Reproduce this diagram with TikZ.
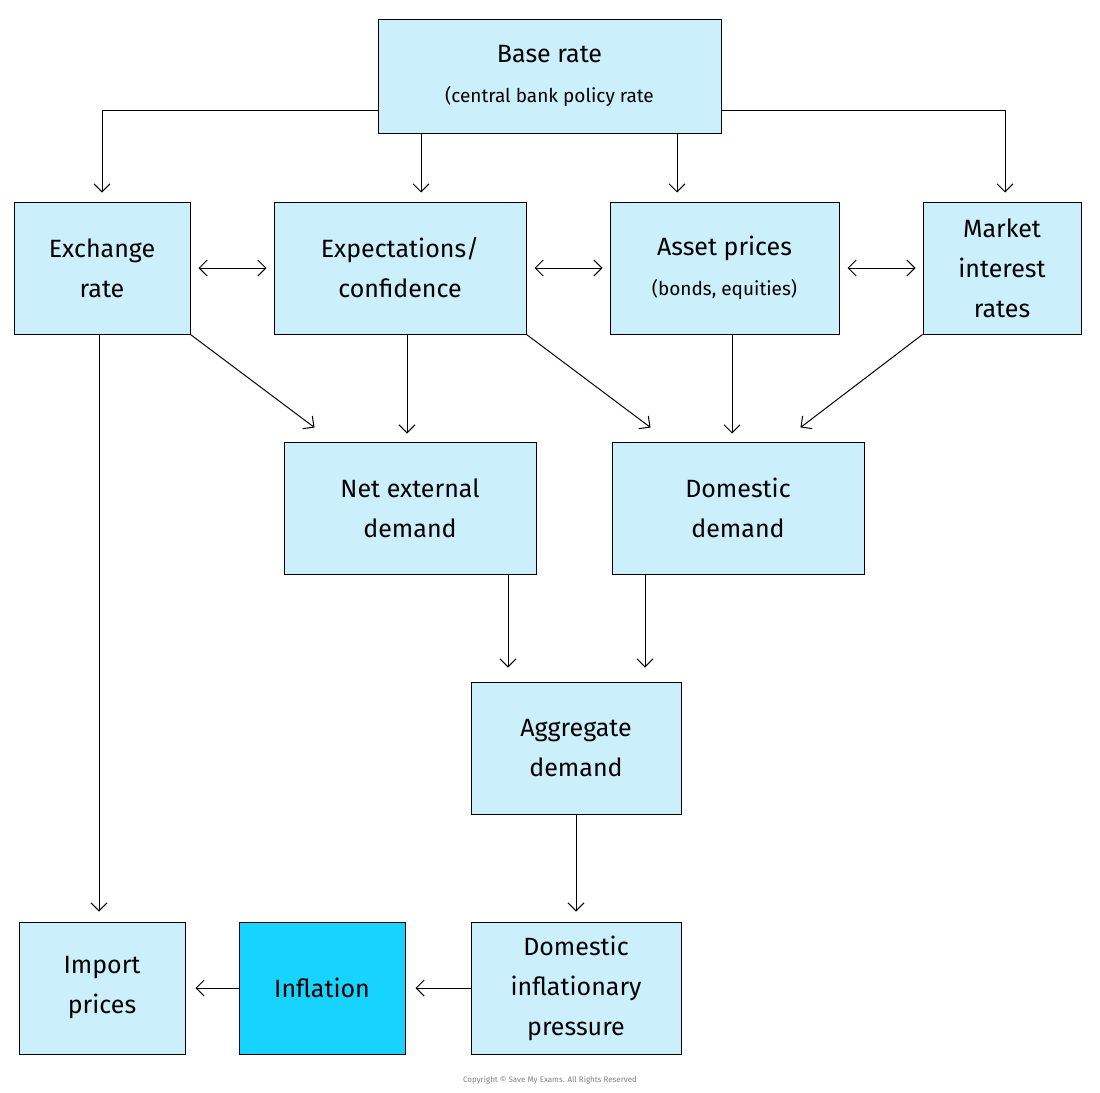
\documentclass[tikz,border=0pt]{standalone}
\usepackage{fontspec}
\setmainfont{Fira Sans}
\usetikzlibrary{arrows.meta}
\definecolor{boxblue}{HTML}{CCEFFC}
\definecolor{hotblue}{HTML}{16D4FF}
\tikzset{
    box/.style ={
        shape=rectangle,
        draw=black,
        fill=boxblue,
        align=center,
        font=\fontsize{25}{40}\selectfont,
        line width=1pt,
        inner sep=2pt
    },
    hot/.style ={
        box,
        fill=hotblue
    },
    arr/.style ={
        -{Straight Barb[length=8pt,width=16pt]},
        line width=1pt
    },
    dbl/.style ={
        {Straight Barb[length=8pt,width=16pt]}-{Straight Barb[length=8pt,width=16pt]},
        line width=1pt,
        shorten <=8pt,
        shorten >=7pt
    }
}

\begin{document}
\begin{tikzpicture}[x=1pt,y=-1pt]
    \useasboundingbox (0,0) rectangle (1100,1092);
    \node[box,minimum width=343pt,minimum height=114pt] (base) at(549.5,76) {Base rate\\{\fontsize{19}{28}\selectfont (central bank policy rate}};
    \node[box,minimum width=176pt,minimum height=132pt] (ex) at(102,268) {Exchange\\rate};
    \node[box,minimum width=252pt,minimum height=132pt] (exp) at(400,268) {Expectations/\\confidence};
    \node[box,minimum width=229pt,minimum height=132pt] (asset) at(724.5,268) {Asset prices\\{\fontsize{19}{28}\selectfont (bonds, equities)}};
    \node[box,minimum width=158pt,minimum height=132pt] (mkt) at(1002,268) {Market\\interest\\rates};
    \node[box,minimum width=252pt,minimum height=132pt] (net) at(410,508) {Net external\\demand};
    \node[box,minimum width=252pt,minimum height=132pt] (dom) at(738,508) {Domestic\\demand};
    \node[box,minimum width=210pt,minimum height=132pt] (agg) at(576,748) {Aggregate\\demand};
    \node[box,minimum width=166pt,minimum height=132pt] (imp) at(102,988) {Import\\prices};
    \node[hot,minimum width=166pt,minimum height=132pt] (inf) at(322,988) {Inflation};
    \node[box,minimum width=210pt,minimum height=132pt] (dip) at(576,988) {Domestic\\inflationary\\pressure};
    \node[text=gray,font=\fontsize{8}{10}\selectfont] (copy) at(550,1080) {Copyright © Save My Exams. All Rights Reserved};
    % from the base rate
    \draw[arr,shorten >=9pt] ([yshift=-34pt]base.west) -| (ex.north);
    \draw[arr,shorten >=9pt] ([xshift=-128.5pt]base.south) -- ([xshift=21pt]exp.north);
    \draw[arr,shorten >=9pt] ([xshift=127.5pt]base.south) -- ([xshift=-47.5pt]asset.north);
    \draw[arr,shorten >=9pt] ([yshift=-34pt]base.east) -| ([xshift=3pt]mkt.north);
    % links between channels
    \draw[dbl] (ex.east) -- (exp.west);
    \draw[dbl] (exp.east) -- (asset.west);
    \draw[dbl] (asset.east) -- (mkt.west);
    % to demand
    \draw[arr] (ex.south east) -- ([xshift=31pt,yshift=14pt]net.north west);
    \draw[arr] ([xshift=7pt]exp.south) -- ([xshift=-3pt,yshift=8pt]net.north);
    \draw[arr] (exp.south east) -- ([xshift=39pt,yshift=14pt]dom.north west);
    \draw[arr] ([xshift=7.5pt]asset.south) -- ([xshift=-6pt,yshift=8pt]dom.north);
    \draw[arr] (mkt.south west) -- ([xshift=189pt,yshift=14pt]dom.north west);
    \draw[arr,shorten >=10pt] ([xshift=-3pt]ex.south) -- ([xshift=-3pt]imp.north);
    \draw[arr,shorten >=14pt] ([xshift=98pt]net.south) -- ([xshift=-68pt]agg.north);
    \draw[arr,shorten >=14pt] ([xshift=-93pt]dom.south) -- ([xshift=69pt]agg.north);
    % to inflation
    \draw[arr,shorten >=10pt] (agg.south) -- (dip.north);
    \draw[arr,shorten >=10pt] (dip.west) -- (inf.east);
    \draw[arr,shorten >=10pt] (inf.west) -- (imp.east);
\end{tikzpicture}
\end{document}
